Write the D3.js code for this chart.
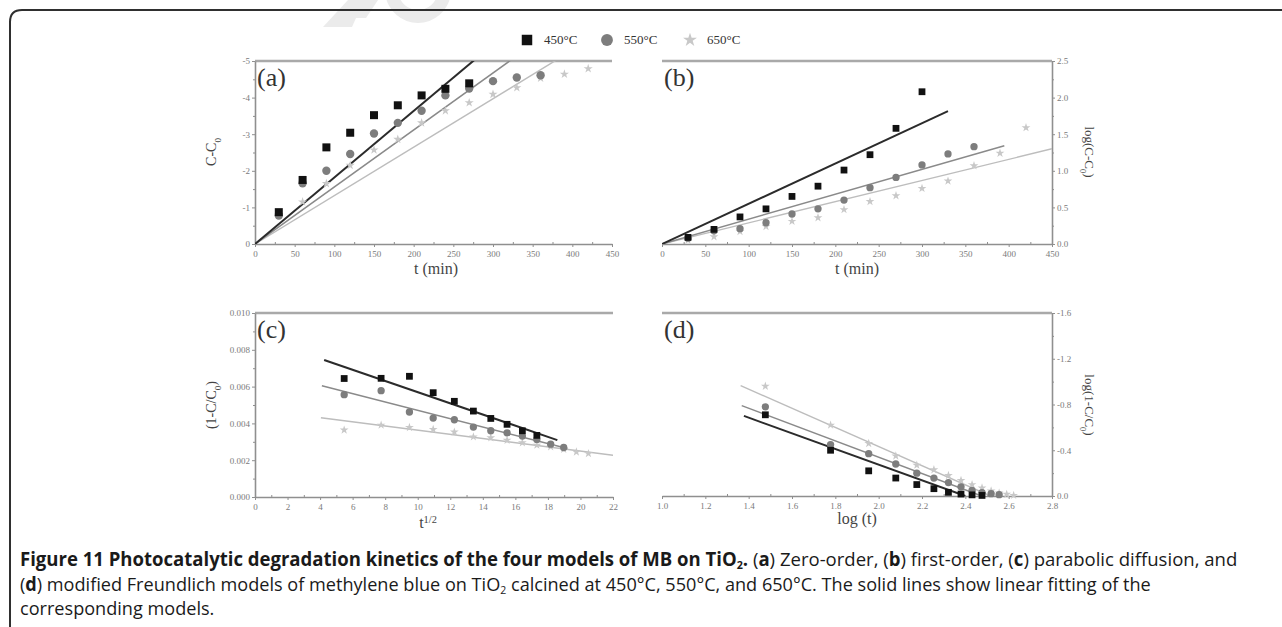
<!DOCTYPE html>
<html><head><meta charset="utf-8">
<script src="https://cdn.jsdelivr.net/npm/d3@7"></script>
<style>body{margin:0;background:#fff;} svg{display:block;}</style>
</head><body>
<svg id="chart" width="1282" height="627"></svg>
<script>
// ---------------- data ----------------
const seriesNames = ["450°C", "550°C", "650°C"];
const timeMin  = [30,60,90,120,150,180,210,240,270,300,330,360,390,420];
const sqrtTime = [5.48,7.75,9.49,10.95,12.25,13.42,14.49,15.49,16.43,17.32,18.17,18.97,19.75,20.49];
const logTime  = [1.477,1.778,1.954,2.079,2.176,2.255,2.322,2.380,2.431,2.477,2.519,2.556,2.591,2.623];

const zeroOrder450 = [-0.87,-1.75,-2.64,-3.04,-3.52,-3.79,-4.06,-4.24,-4.39];
const zeroOrder550 = [-0.78,-1.66,-2.00,-2.46,-3.02,-3.31,-3.64,-4.06,-4.25,-4.45,-4.55,-4.61];
const zeroOrder650 = [-0.80,-1.15,-1.65,-2.15,-2.57,-2.86,-3.31,-3.64,-3.86,-4.09,-4.27,-4.53,-4.64,-4.79];

const firstOrder450 = [0.09,0.20,0.37,0.48,0.65,0.79,1.01,1.22,1.58,2.08];
const firstOrder550 = [0.08,0.18,0.21,0.29,0.41,0.48,0.60,0.77,0.91,1.08,1.23,1.33];
const firstOrder650 = [0.05,0.10,0.17,0.24,0.31,0.36,0.47,0.58,0.66,0.76,0.86,1.07,1.24,1.59];

const parabolic450 = [0.00644,0.00645,0.00656,0.00567,0.00520,0.00467,0.00427,0.00395,0.00360,0.00335];
const parabolic550 = [0.00556,0.00578,0.00462,0.00429,0.00420,0.00380,0.00360,0.00349,0.00331,0.00313,0.00287,0.00269];
const parabolic650 = [0.00364,0.00391,0.00378,0.00367,0.00353,0.00327,0.00322,0.00309,0.00295,0.00282,0.00273,0.00260,0.00245,0.00236];

const freundlich450 = [-0.71,-0.40,-0.22,-0.157,-0.10,-0.064,-0.032,-0.017,-0.010,-0.005];
const freundlich550 = [-0.78,-0.45,-0.37,-0.28,-0.20,-0.157,-0.117,-0.08,-0.05,-0.03,-0.02,-0.012];
const freundlich650 = [-0.96,-0.62,-0.46,-0.35,-0.27,-0.23,-0.18,-0.137,-0.10,-0.07,-0.044,-0.026,-0.015,-0.006];

// linear fits: [slope, intercept, xStart, xEnd]
const fitZeroOrder  = [[-0.01818,0,0,450],[-0.01558,0,0,450],[-0.01323,0,0,450]];
const fitFirstOrder = [[0.0055,0,0,330],[0.0034,0,0,395],[0.00289,0,0,450]];
const fitParabolic  = [[-0.000304,0.00874,4.25,18.58],[-0.000226,0.00697,4.11,19.2],[-0.0001137,0.00477,4.05,22]];
const fitFreundlich = [[0.685,-1.644,1.378,2.40],[0.714,-1.767,1.368,2.475],[0.837,-2.106,1.363,2.516]];

// ticks
const ticksTimeX   = [0,50,100,150,200,250,300,350,400,450];
const ticksZeroY   = [0,-1,-2,-3,-4,-5];
const ticksFirstY  = [0,0.5,1.0,1.5,2.0,2.5];
const ticksSqrtX   = [0,2,4,6,8,10,12,14,16,18,20,22];
const ticksParabY  = [0,0.002,0.004,0.006,0.008,0.010];
const ticksLogX    = [1.0,1.2,1.4,1.6,1.8,2.0,2.2,2.4,2.6,2.8];
const ticksFreundY = [0,-0.4,-0.8,-1.2,-1.6];

// ---------------- drawing ----------------
const svg = d3.select("#chart");
const SERIF = "'Liberation Serif','Times New Roman',serif";
const markerFill = ["#111111", "#7d7d7d", "#c8c8c8"];
const lineStroke = ["#2b2b2b", "#8a8a8a", "#bdbdbd"];
const lineWidth = [2, 1.5, 1.4];
const symbols = [d3.symbolSquare, d3.symbolCircle, d3.symbolStar];

// watermark (faint)
const wm = svg.append("g").attr("fill", "#ebebeb");
wm.append("path").attr("d", "M323,27 L348,0 L378,0 L366,18 L356,18 L352,27 Z");
wm.append("path").attr("d", d3.arc()({innerRadius: 20, outerRadius: 33, startAngle: Math.PI*0.55, endAngle: Math.PI*1.45}))
  .attr("transform", "translate(418,-10)");

// outer frame
svg.append("path").attr("d", "M10,627 L10,22 Q10,10 22,10 L1282,10")
  .attr("fill", "none").attr("stroke", "#2f2f2f").attr("stroke-width", 2);

const panels = [
  {id:"a", left:255, right:612, top:61, bottom:244, xDomain:[0,450], yDomain:[0,-5], ySide:"left",
   xTicks:ticksTimeX, xMinor:0.5, yTicks:ticksZeroY, yMinor:0.5, xFmt:d=>String(d), yFmt:d=>String(d),
   xs:[timeMin,timeMin,timeMin], ys:[zeroOrder450,zeroOrder550,zeroOrder650], fits:fitZeroOrder, msize:[64,55,26]},
  {id:"b", left:662, right:1052, top:61, bottom:244, xDomain:[0,450], yDomain:[0,2.5], ySide:"right",
   xTicks:ticksTimeX, xMinor:0.5, yTicks:ticksFirstY, yMinor:0.5, xFmt:d=>String(d), yFmt:d=>d.toFixed(1),
   xs:[timeMin,timeMin,timeMin], ys:[firstOrder450,firstOrder550,firstOrder650], fits:fitFirstOrder, msize:[46,42,24]},
  {id:"c", left:255, right:613, top:313, bottom:497, xDomain:[0,22], yDomain:[0,0.010], ySide:"left",
   xTicks:ticksSqrtX, xMinor:0.5, yTicks:ticksParabY, yMinor:0.5, xFmt:d=>String(d), yFmt:d=>d.toFixed(3),
   xs:[sqrtTime,sqrtTime,sqrtTime], ys:[parabolic450,parabolic550,parabolic650], fits:fitParabolic, msize:[46,42,24]},
  {id:"d", left:662, right:1052, top:313, bottom:496, xDomain:[1.0,2.8], yDomain:[0,-1.6], ySide:"right",
   xTicks:ticksLogX, xMinor:0.5, yTicks:ticksFreundY, yMinor:0.5, xFmt:d=>d.toFixed(1), yFmt:d=>d.toFixed(1),
   xs:[logTime,logTime,logTime], ys:[freundlich450,freundlich550,freundlich650], fits:fitFreundlich, msize:[46,42,24]}
];

function minorValues(major, frac) {
  const out = [];
  for (let i = 0; i < major.length - 1; i++) out.push(major[i] + (major[i+1]-major[i])*frac);
  return out;
}

panels.forEach(p => {
  const x = d3.scaleLinear().domain(p.xDomain).range([p.left, p.right]);
  const y = d3.scaleLinear().domain(p.yDomain).range([p.bottom, p.top]);
  const g = svg.append("g");

  g.append("line").attr("x1", p.left).attr("x2", p.right).attr("y1", p.top).attr("y2", p.top)
    .attr("stroke", "#a9a9a9").attr("stroke-width", 2.5);

  const xa = g.append("g").attr("transform", `translate(0,${p.bottom})`)
    .call(d3.axisBottom(x).tickValues(p.xTicks).tickFormat(p.xFmt).tickSizeInner(3).tickSizeOuter(0).tickPadding(4));
  g.append("g").attr("transform", `translate(0,${p.bottom})`)
    .call(d3.axisBottom(x).tickValues(minorValues(p.xTicks, p.xMinor)).tickFormat("").tickSizeInner(-2).tickSizeOuter(0))
    .call(s => s.select(".domain").remove());

  const yAxisFn = p.ySide === "left" ? d3.axisLeft : d3.axisRight;
  const ax = p.ySide === "left" ? p.left : p.right;
  const ya = g.append("g").attr("transform", `translate(${ax},0)`)
    .call(yAxisFn(y).tickValues(p.yTicks).tickFormat(p.yFmt).tickSizeInner(3).tickSizeOuter(0).tickPadding(2));
  g.append("g").attr("transform", `translate(${ax},0)`)
    .call(yAxisFn(y).tickValues(minorValues(p.yTicks, p.yMinor)).tickFormat("").tickSizeInner(2).tickSizeOuter(0))
    .call(s => s.select(".domain").remove());

  [xa, ya].forEach(a => {
    a.select(".domain").attr("stroke", "#8f8f8f").attr("stroke-width", 1.6);
    a.selectAll(".tick text").attr("fill", "#7a7a7a").style("font-family", SERIF).style("font-size", "9px");
  });
  g.selectAll(".tick line").attr("stroke", "#8f8f8f");

  const clipId = "clip-" + p.id;
  svg.append("clipPath").attr("id", clipId).append("rect")
    .attr("x", p.left).attr("y", p.top).attr("width", p.right - p.left).attr("height", p.bottom - p.top);

  [2,1,0].forEach(i => {
    const f = p.fits[i];
    g.append("line").attr("clip-path", `url(#${clipId})`)
      .attr("x1", x(f[2])).attr("y1", y(f[0]*f[2] + f[1]))
      .attr("x2", x(f[3])).attr("y2", y(f[0]*f[3] + f[1]))
      .attr("stroke", lineStroke[i]).attr("stroke-width", lineWidth[i]);
  });

  [2,1,0].forEach(i => {
    const pts = p.ys[i].map((v, k) => [p.xs[i][k], v]);
    g.selectAll(null).data(pts).enter().append("path")
      .attr("d", d3.symbol().type(symbols[i]).size(p.msize[i]))
      .attr("transform", d => `translate(${x(d[0])},${y(d[1])})`)
      .attr("fill", markerFill[i]);
  });

  g.append("text").attr("x", p.left + 2).attr("y", p.top + 25)
    .style("font-family", SERIF).style("font-size", "26px").attr("fill", "#333")
    .text(`(${p.id})`);
});

function title(x, y, rot, parts, size) {
  const t = svg.append("text").attr("transform", `translate(${x},${y}) rotate(${rot})`)
    .attr("text-anchor", "middle").style("font-family", SERIF).style("font-size", size + "px").attr("fill", "#444");
  parts.forEach(pt => {
    const ts = t.append("tspan").text(pt[0]);
    if (pt[1] === "sub") ts.attr("baseline-shift", "sub").style("font-size", (size*0.65) + "px");
    if (pt[1] === "sup") ts.attr("baseline-shift", "super").style("font-size", (size*0.65) + "px");
  });
  return t;
}
title(436, 274, 0, [["t (min)"]], 16);
title(857, 274, 0, [["t (min)"]], 16);
title(428, 528, 0, [["t"],["1/2","sup"]], 16);
title(857, 524, 0, [["log (t)"]], 16);
title(216, 152, -90, [["C-C"],["0","sub"]], 14);
title(216, 405, -90, [["(1-C/C"],["0","sub"],[")"]], 14);
title(1085, 152, 90, [["log(C-C"],["0","sub"],[")"]], 13);
title(1085, 405, 90, [["log(1-C/C"],["0","sub"],[")"]], 13);

const legX = [527, 607, 690];
seriesNames.forEach((name, i) => {
  svg.append("path").attr("d", d3.symbol().type(symbols[i]).size(i === 2 ? 60 : 110))
    .attr("transform", `translate(${legX[i]},40)`).attr("fill", markerFill[i]);
  svg.append("text").attr("x", legX[i] + 17).attr("y", 44)
    .style("font-family", SERIF).style("font-size", "13px").attr("fill", "#333").text(name);
});

// caption (scaled horizontally to match the reference widths)
const CAP = "'Open Sans','Liberation Sans',sans-serif";
const capLines = [
  {y: 566, len: 1218, parts: [
    ["Figure 11 Photocatalytic degradation kinetics of the four models of MB on TiO", "b"], ["2", "bsub"], [".", "b"],
    [" (", ""], ["a", "b"], [") Zero-order, (", ""], ["b", "b"], [") first-order, (", ""], ["c", "b"],
    [") parabolic diffusion, and", ""]]},
  {y: 591, len: 1132, parts: [
    ["(", ""], ["d", "b"], [") modified Freundlich models of methylene blue on TiO", ""], ["2", "sub"],
    [" calcined at 450°C, 550°C, and 650°C. The solid lines show linear fitting of the", ""]]},
  {y: 615, len: null, parts: [["corresponding models.", ""]]}
];
let refScale = 1;
[1, 0, 2].forEach(idx => {
  const l = capLines[idx];
  const g = svg.append("g");
  const t = g.append("text").attr("x", 0).attr("y", 0)
    .style("font-family", CAP).style("font-size", "19px").attr("fill", "#1a1a1a");
  let lastSub = false;
  l.parts.forEach(pt => {
    const ts = t.append("tspan").text(pt[0]);
    const isSub = pt[1] === "sub" || pt[1] === "bsub";
    if (pt[1] === "b" || pt[1] === "bsub") ts.style("font-weight", "bold");
    if (isSub) ts.attr("dy", 3).style("font-size", "11px");
    else if (lastSub) ts.attr("dy", -3);
    lastSub = isSub;
  });
  const w = t.node().getComputedTextLength();
  const k = l.len ? l.len / w : refScale;
  if (idx === 1) refScale = k;
  g.attr("transform", `translate(20,${l.y}) scale(${k},1)`);
});
</script>
</body></html>
